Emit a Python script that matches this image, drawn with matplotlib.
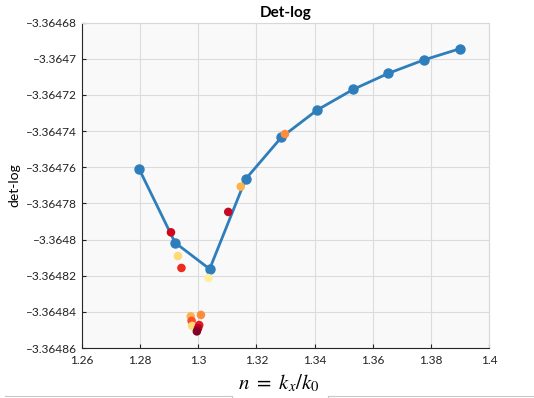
"""
Det-log curve vs n = kx/k0, with the scattered root estimates
"""

import matplotlib
matplotlib.use('Agg')
import matplotlib.pyplot as plt
from matplotlib.lines import Line2D
from matplotlib.ticker import FuncFormatter

# blue curve
n_curve = [1.2796, 1.2920, 1.3039, 1.3163, 1.3286, 1.3409, 1.3533, 1.3654, 1.3776, 1.3900]
det_curve = [-3.3647608, -3.3648017, -3.3648163, -3.3647665, -3.3647434,
             -3.3647283, -3.3647169, -3.3647080, -3.3647006, -3.3646944]

# coloured points
n_pts = [1.3298, 1.3146, 1.3103, 1.2906, 1.2930, 1.2942, 1.3035,
         1.2974, 1.3009, 1.2977, 1.2979, 1.3003, 1.2999, 1.2995]
det_pts = [-3.3647416, -3.3647707, -3.3647847, -3.3647960, -3.3648091, -3.3648157, -3.3648213,
           -3.3648425, -3.3648417, -3.3648450, -3.3648478, -3.3648473, -3.3648491, -3.3648508]
pt_colors = ['#fd8d3c', '#feb24c', '#c40a24', '#d0061f', '#fed976', '#ee2a1c', '#ffeda0',
             '#feb24c', '#fd8d3c', '#fc4e2a', '#fed976', '#e31a1c', '#bd0026', '#800026']

x_ticks = [1.26, 1.28, 1.30, 1.32, 1.34, 1.36, 1.38, 1.40]
y_ticks = [-3.36486, -3.36484, -3.36482, -3.3648, -3.36478, -3.36476,
           -3.36474, -3.36472, -3.3647, -3.36468]

plt.rcParams['font.family'] = ['Lato', 'DejaVu Sans']


def trim(v, decimals):
    s = f"{v:.{decimals}f}".rstrip('0').rstrip('.')
    return s.replace('-', '\u2013')


fig = plt.figure(figsize=(5.34, 3.98), dpi=100)
ax = fig.add_axes([0.1536, 0.1256, 0.7622, 0.8174])
ax.set_facecolor('#f9f9f9')

ax.plot(n_curve, det_curve, '-o', color='#2f7ebc', lw=2, ms=6.5, zorder=3)
ax.scatter(n_pts, det_pts, c=pt_colors, s=38, edgecolors='none', zorder=4)

ax.set_xlim(1.26, 1.40)
ax.set_ylim(-3.36486, -3.36468)
ax.set_xticks(x_ticks)
ax.set_yticks(y_ticks)
ax.xaxis.set_major_formatter(FuncFormatter(lambda v, p: trim(v, 2)))
ax.yaxis.set_major_formatter(FuncFormatter(lambda v, p: trim(v, 5)))
ax.tick_params(direction='in', length=3, labelsize=8.6, colors='#222222', width=0.8)
ax.tick_params(axis='x', pad=5)
ax.grid(True, color='#dcdcdc', lw=0.8)
ax.set_axisbelow(True)

for side in ['top', 'right']:
    ax.spines[side].set_color('#d8d8d8')
for side in ['left', 'bottom']:
    ax.spines[side].set_color('#262626')
    ax.spines[side].set_linewidth(0.8)

ax.set_title('Det-log', fontsize=11, fontweight='bold', pad=4)
ax.set_ylabel('det-log', fontsize=10, labelpad=4)
fig.text(0.522, 0.038, r'$n\ =\ k_x/k_0$', fontsize=15, ha='center', va='center',
         math_fontfamily='stix')

# framing lines at the bottom edge of the screenshot
for x0, x1 in [(0.01, 0.434), (0.614, 1.0)]:
    fig.add_artist(Line2D([x0, x1], [0.006, 0.006], color='#c8c8c8', lw=0.8))
fig.add_artist(Line2D([0.434, 0.434], [0.0, 0.006], color='#c8c8c8', lw=0.8))
fig.add_artist(Line2D([0.614, 0.614], [0.0, 0.006], color='#c8c8c8', lw=0.8))

plt.savefig('out.png', dpi=100)
print("Saved out.png")
